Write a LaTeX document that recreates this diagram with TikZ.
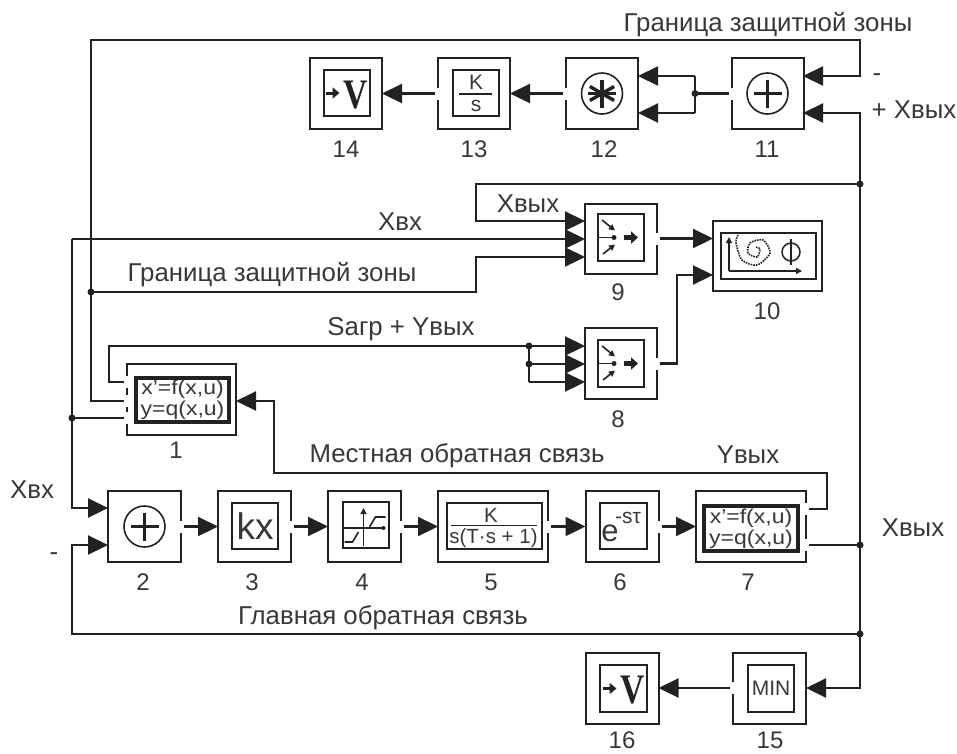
\documentclass[tikz,border=0pt]{standalone}
\usepackage{fontspec}
\setmainfont{Liberation Sans}
\newfontfamily\serifv{Liberation Serif}
\usetikzlibrary{arrows.meta,calc}
\definecolor{ink}{HTML}{222222}
\definecolor{txt}{HTML}{383838}
\tikzset{
  blockbox/.style={draw=ink,line width=2pt,inner sep=0pt,outer sep=0pt,fill=white},
  innerbox/.style={draw=ink,line width=2pt,inner sep=0pt,outer sep=0pt,text=txt,align=center},
  wire/.style={draw=ink,line width=2.2pt,line join=miter},
  arr/.style={wire,-{Triangle[length=20pt,width=19pt]}},
  fromport/.style={shorten <=3pt},
  gapmark/.style={draw=white,line width=4pt},
  junct/.style={circle,fill=ink,inner sep=0pt,minimum size=7pt},
  num/.style={text=txt,font=\fontsize{24}{26}\selectfont,inner sep=0pt},
  lab/.style={text=txt,font=\fontsize{25.8}{28}\selectfont,inner sep=0pt},
  inktext/.style={text=txt,inner sep=0pt},
  eqtext/.style={inktext,xscale=1.15,transform shape,font=\fontsize{20}{20}\selectfont},
  icon/.style={draw=ink,line width=1.6pt},
  tiny/.style={-{Triangle[length=6pt,width=6pt]}}
}
% gap in a block border where an output leaves
\newcommand\portgap[1]{\draw[gapmark] ($(#1)+(0,-6)$) -- ($(#1)+(0,6)$);}
\newcommand\sumicon[1]{%
  \draw[ink,line width=1.6pt] (#1) circle (20.5);
  \draw[ink,line width=3.2pt] ($(#1)+(-14,0)$) -- ($(#1)+(14,0)$) ($(#1)+(0,-14)$) -- ($(#1)+(0,14)$);}
\newcommand\mergeicon[1]{%
  \begin{scope}[shift={(#1)}]
  \draw[icon] (-23,0) -- (-7,0);
  \fill[ink] (-7,0) circle (2.5);
  \draw[icon,tiny] (-19,-17.5) -- (-6,-7);
  \draw[icon,tiny] (-18,16.5) -- (-6,7);
  \draw[ink,line width=4.5pt,-{Triangle[length=7pt,width=12pt]}] (3,0) -- (17,0);
  \end{scope}}
\newcommand\vicon[1]{%
  \begin{scope}[shift={(#1)}]
  \draw[ink,line width=3pt,-{Triangle[length=7pt,width=11pt]}] (-21,0) -- (-7,0);
  \node[inktext,text=ink,xscale=.8,transform shape,font=\serifv\bfseries\fontsize{42}{42}\selectfont] at (9,2) {V};
  \end{scope}}
\begin{document}
\begin{tikzpicture}[x=1pt,y=-1pt]
\useasboundingbox (0,0) rectangle (957,753);
\fill[white] (0,0) rectangle (957,753);
% ---- coordinates for ports, corners and junctions
\coordinate (tl) at (91,40);
\coordinate (tr) at (860,40);
\coordinate (in11a) at (803,76);
\coordinate (in11b) at (803,113);
\coordinate (in12a) at (638,76);
\coordinate (in12b) at (638,113);
\coordinate (j12) at (695,93.5);
\coordinate (j184) at (860,184);
\coordinate (c476) at (476,184);
\coordinate (in9a) at (585,221);
\coordinate (in9b) at (585,239);
\coordinate (in9c) at (585,257);
\coordinate (c475) at (476,292);
\coordinate (j292) at (91,292);
\coordinate (xl) at (72,239);
\coordinate (in8a) at (585,346);
\coordinate (in8b) at (585,364);
\coordinate (in8c) at (585,382);
\coordinate (j8a) at (529,346);
\coordinate (j8b) at (529,364);
\coordinate (c109) at (109,346);
\coordinate (o1a) at (127,382);
\coordinate (o1b) at (127,401);
\coordinate (o1c) at (127,418);
\coordinate (j418) at (72,418);
\coordinate (in10b) at (713,275);
\coordinate (c677) at (677,275);
\coordinate (in2a) at (108,508);
\coordinate (in2b) at (108,545);
\coordinate (o7a) at (806,509);
\coordinate (o7b) at (806,545);
\coordinate (c827) at (827,473);
\coordinate (c274) at (274,473);
\coordinate (j545) at (860,545);
\coordinate (j634) at (860,634);
\coordinate (bl) at (72,634);
\coordinate (in1) at (236,401);
% ---- blocks
\node[blockbox,minimum width=72pt,minimum height=71pt] (b14) at (346,93.5) {};
\node[blockbox,minimum width=72pt,minimum height=71pt] (b13) at (474,93.5) {};
\node[blockbox,minimum width=72pt,minimum height=71pt] (b12) at (602,93.5) {};
\node[blockbox,minimum width=72pt,minimum height=71pt] (b11) at (767.5,93.5) {};
\node[blockbox,minimum width=72pt,minimum height=70pt] (b9) at (621,238.5) {};
\node[blockbox,minimum width=72pt,minimum height=71pt] (b8) at (621,363.5) {};
\node[blockbox,minimum width=109pt,minimum height=70pt] (b10) at (767.5,256) {};
\node[blockbox,minimum width=109pt,minimum height=71pt] (b1) at (181.5,399.5) {};
\node[blockbox,minimum width=73pt,minimum height=71pt] (b2) at (144.5,526.5) {};
\node[blockbox,minimum width=73pt,minimum height=71pt] (b3) at (254.5,526.5) {};
\node[blockbox,minimum width=73pt,minimum height=71pt] (b4) at (364.5,526.5) {};
\node[blockbox,minimum width=110pt,minimum height=71pt] (b5) at (493,526.5) {};
\node[blockbox,minimum width=73pt,minimum height=71pt] (b6) at (622,526.5) {};
\node[blockbox,minimum width=110pt,minimum height=71pt] (b7) at (751,526.5) {};
\node[blockbox,minimum width=73pt,minimum height=71pt] (b15) at (769.5,688) {};
\node[blockbox,minimum width=73pt,minimum height=71pt] (b16) at (622,688) {};
% ---- inner boxes and their contents
\node[innerbox,minimum width=46pt,minimum height=46pt] (i14) at (346.5,93) {};
\vicon{i14.center}
\node[innerbox,minimum width=46pt,minimum height=46pt] (i13) at (476,93) {};
\node[inktext,font=\fontsize{21}{22}\selectfont] (k13) at (476,82) {K};
\node[inktext,font=\fontsize{21}{22}\selectfont] (s13) at (476,106) {s};
\draw[icon] (459,94) -- (492,94);
\sumicon{b12.center}
\foreach \a in {0,60,120} \draw[ink,line width=3.4pt] ($(b12.center)+(90+\a:14)$) -- ($(b12.center)+(270+\a:14)$);
\sumicon{b11.center}
\node[innerbox,minimum width=46pt,minimum height=47pt] (i9) at (621,237.5) {};
\mergeicon{i9.center}
\node[innerbox,minimum width=46pt,minimum height=47pt] (i8) at (621,363.5) {};
\mergeicon{i8.center}
% block 10
\node[innerbox,minimum width=95pt,minimum height=46pt] (i10) at (768.5,256) {};
\draw[icon,tiny] (729,271) -- (729,237);
\draw[icon,tiny] (729,271) -- (802,271);
\draw[ink,line width=1.6pt,densely dotted] plot[smooth] coordinates {(738,235) (736,243) (742,260) (757,265) (770,253) (763,240) (750,243) (748,253) (757,257) (760,249) (755,247)};
\draw[ink,line width=1.5pt] (791,252) circle (9);
\draw[ink,line width=1.5pt] (791,239) -- (791,265);
% block 1
\node[innerbox,line width=1.2pt,minimum width=95pt,minimum height=46pt] (i1) at (182.5,400) {};
\draw[ink,line width=1.2pt] (137,379) rectangle (228,421);
\node[eqtext] (t1a) at (182.5,389.5) {x'=f(x,u)};
\node[eqtext] (t1b) at (182.5,410.5) {y=q(x,u)};
% block 2
\sumicon{b2.center}
\node[innerbox,minimum width=46pt,minimum height=46pt,font=\fontsize{37}{37}\selectfont] (i3) at (255,526) {kx};
\node[innerbox,minimum width=46pt,minimum height=46pt] (i4) at (365.5,525) {};
\begin{scope}[shift={(i4.center)}]
  \draw[icon,tiny] (-2,21) -- (-2,-17);
  \draw[icon] (-22,3) -- (18,3);
  \fill[ink] (18,3) circle (2);
  \draw[icon] (-21,17) -- (-13,17) -- (-7,7);
  \draw[icon] (4,2) -- (10,-8) -- (20,-8);
\end{scope}
\node[innerbox,minimum width=95pt,minimum height=46pt] (i5) at (494.5,526) {};
\node[inktext,font=\fontsize{20.5}{21}\selectfont] (k5) at (491,515) {K};
\node[inktext,font=\fontsize{20.5}{21}\selectfont] (s5) at (493.5,538) {s(T·s + 1)};
\draw[icon] (451,525.5) -- (537,525.5);
\node[innerbox,minimum width=47pt,minimum height=46pt] (i6) at (623.5,526) {};
\node[inktext,font=\fontsize{31}{32}\selectfont] (e6) at (610,533) {e};
\node[inktext,font=\fontsize{21}{21}\selectfont] (p6) at (628,518) {-sτ};
\node[innerbox,line width=1.2pt,minimum width=96pt,minimum height=47pt] (i7) at (751,528.5) {};
\draw[ink,line width=1.2pt] (705,507) rectangle (797,550);
\node[eqtext] (t7a) at (751,518) {x'=f(x,u)};
\node[eqtext] (t7b) at (751,539) {y=q(x,u)};
\node[innerbox,minimum width=46pt,minimum height=47pt,font=\fontsize{21}{22}\selectfont] (i15) at (771,688.5) {MIN};
\node[innerbox,minimum width=47pt,minimum height=47pt] (i16) at (623.5,688.5) {};
\vicon{i16.center}
% ---- gaps at output ports
\portgap{b13.west}
\portgap{b12.west}
\portgap{b11.west}
\portgap{b9.east}
\portgap{b8.east}
\portgap{o1a}
\portgap{o1b}
\portgap{o1c}
\portgap{b2.east}
\portgap{b3.east}
\portgap{b4.east}
\portgap{b5.east}
\portgap{b6.east}
\portgap{o7a}
\portgap{o7b}
\portgap{b15.west}
% ---- connectors
\draw[arr,fromport] (o1b) -| (tl) -- (tr) |- (in11a);
\draw[arr] (j292) -- (c475) |- (in9c);
\draw[arr] (j184) -- (c476) |- (in9a);
\draw[arr] (j545) |- (in11b);
\draw[wire,fromport] (b11.west) -- (j12);
\draw[wire] (in12a -| j12) -- (in12b -| j12);
\draw[arr] (in12a -| j12) -- (in12a);
\draw[arr] (in12b -| j12) -- (in12b);
\draw[arr,fromport] (b12.west) -- (b13.east);
\draw[arr,fromport] (b13.west) -- (b14.east);
\draw[arr] (xl) |- (in2a);
\draw[arr] (xl) -- (in9b);
\draw[wire,fromport] (o1c) -- (j418);
\draw[arr,fromport] (o1a) -| (c109) -- (j8a) -- (in8a);
\draw[arr] (j8b) -- (in8b);
\draw[wire] (j8a) -- (j8a |- in8c);
\draw[arr] (j8a |- in8c) -- (in8c);
\draw[arr,fromport] (b9.east) -- (b9.east -| b10.west);
\draw[arr,fromport] (b8.east) -| (c677) -- (in10b);
\draw[arr,fromport] (b2.east) -- (b3.west);
\draw[arr,fromport] (b3.east) -- (b4.west);
\draw[arr,fromport] (b4.east) -- (b5.west);
\draw[arr,fromport] (b5.east) -- (b6.west);
\draw[arr,fromport] (b6.east) -- (b7.west);
\draw[arr,fromport] (o7a) -| (c827) -- (c274) |- (in1);
\draw[wire,fromport] (o7b) -- (j545);
\draw[arr] (j634) -- (bl) |- (in2b);
\draw[wire] (j545) -- (j634);
\draw[arr] (j634) |- (b15.east);
\draw[arr,fromport] (b15.west) -- (b16.east);
% ---- junction dots
\foreach \j in {j12,j184,j292,j8a,j8b,j418,j545,j634} \node[junct] at (\j) {};
% ---- numbers
\node[num] (n14) at (346,149) {14};
\node[num] (n13) at (474,149) {13};
\node[num] (n12) at (604,149) {12};
\node[num] (n11) at (767,149) {11};
\node[num] (n9) at (618,292) {9};
\node[num] (n10) at (767,311) {10};
\node[num] (n8) at (618,419) {8};
\node[num] (n1) at (176,450) {1};
\node[num] (n2) at (143,582) {2};
\node[num] (n3) at (252,582) {3};
\node[num] (n4) at (362,582) {4};
\node[num] (n5) at (491,582) {5};
\node[num] (n6) at (620,582) {6};
\node[num] (n7) at (748,582) {7};
\node[num] (n16) at (622,740) {16};
\node[num] (n15) at (770,740) {15};
% ---- labels
\node[lab] (l1) at (768,25) {Граница защитной зоны};
\node[lab] (l2) at (877,78) {-};
\node[lab] (l3) at (914,110) {+ Хвых};
\node[lab] (l4) at (528,204) {Хвых};
\node[lab] (l5) at (400,222) {Хвх};
\node[lab] (l6) at (272,275) {Граница защитной зоны};
\node[lab] (l7) at (401,329) {Sагр + Yвых};
\node[lab] (l8) at (457,456) {Местная обратная связь};
\node[lab] (l9) at (748,455) {Yвых};
\node[lab] (l10) at (32,490) {Хвх};
\node[lab] (l11) at (54,557) {-};
\node[lab] (l12) at (913,528) {Хвых};
\node[lab] (l13) at (383,618) {Главная обратная связь};
\end{tikzpicture}
\end{document}
